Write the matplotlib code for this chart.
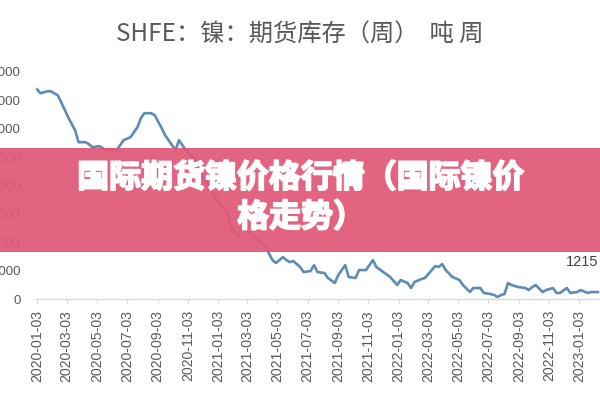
import numpy as np
import pandas as pd
import matplotlib
matplotlib.use('Agg')
import matplotlib.pyplot as plt
import matplotlib.dates as mdates
import matplotlib.patheffects as pe
from matplotlib.patches import Rectangle

plt.rcParams['font.family'] = ['Noto Sans CJK SC', 'DejaVu Sans']

# SHFE nickel futures stock, weekly (weeks counted from 2020-01-03), tons
start_date = '2020-01-03'
week_no = [0, 1, 3, 4, 6, 7, 9, 11, 12, 14, 15, 16, 18, 20, 21, 23, 25, 27, 29, 30,
           31, 33, 34, 36, 37, 39, 40, 41, 42, 43, 45, 48, 50, 52, 55, 56, 58, 59, 60, 63,
           66, 68, 69, 71, 72, 73, 74, 76, 77, 79, 80, 81, 83, 84, 86, 87, 89, 90, 92, 93,
           95, 97, 98, 100, 102, 104, 105, 107, 108, 109, 111, 112, 114, 115, 116, 117, 118, 120, 122, 123,
           125, 126, 128, 129, 131, 132, 133, 134, 135, 136, 137, 139, 141, 142, 143, 144, 146, 147, 149, 150,
           151, 153, 154, 156, 157, 159, 160, 162]
stock = [36950, 36260, 36600, 36600, 35900, 34670, 32030, 29740, 27630, 27630, 27280, 26750, 26930, 26220, 26400, 26220, 27980, 28510, 30270, 31860,
         32740, 32740, 32380, 30100, 28860, 27100, 26220, 27980, 27100, 26220, 24990, 21470, 19540, 17420, 15140, 12670, 10910, 12670, 12140, 10910,
         9150, 6860, 6340, 7390, 6860, 6510, 6690, 5630, 4750, 4930, 5980, 4750, 4580, 3700, 2820, 4220, 5980, 3870, 3700, 5100,
         5100, 6860, 5630, 4750, 3870, 2460, 3340, 2820, 1940, 2990, 3520, 3700, 5100, 5810, 5630, 6160, 5100, 3870, 3340, 2460,
         1230, 1940, 1940, 1060, 880, 700, 350, 700, 880, 2820, 2460, 2110, 1940, 1580, 2110, 2460, 1230, 1580, 1940, 1060,
         1060, 1940, 1060, 1230, 1580, 1060, 1230, 1215]
y_ticks = [0, 5000, 10000, 15000, 20000, 25000, 30000, 35000, 40000]

title = 'SHFE：镍：期货库存（周）  吨 周'
banner = '国际期货镍价格行情（国际镍价\n格走势）'

dates = pd.Timestamp(start_date) + pd.to_timedelta(np.array(week_no) * 7, unit='D')

fig = plt.figure(figsize=(6, 4), dpi=100)
ax = fig.add_axes([0.06, 0.2525, 0.94, 0.5675])

ax.plot(dates, stock, color='#5b8cb8', linewidth=1.9, solid_joinstyle='round')
ax.annotate(f'{stock[-1]}', xy=(dates[-1], stock[-1]), xytext=(-32, 30),
            textcoords='offset pixels', ha='left', va='center',
            fontsize=10.5, color='#404040', family=['Liberation Sans', 'DejaVu Sans'])

ax.set_ylim(0, 40000)
ax.set_yticks(y_ticks)
ax.set_xlim(pd.Timestamp('2020-01-01'), pd.Timestamp('2023-02-14'))
ax.xaxis.set_major_locator(mdates.MonthLocator(bymonth=[1, 3, 5, 7, 9, 11], bymonthday=3))
ax.xaxis.set_major_formatter(mdates.DateFormatter('%Y-%m-%d'))

for s in ['top', 'right', 'left']:
    ax.spines[s].set_visible(False)
ax.spines['bottom'].set_color('#d9d9d9')
ax.spines['bottom'].set_linewidth(1.0)

ax.tick_params(axis='y', length=0, pad=11, labelsize=9.5, labelcolor='#595959')
ax.tick_params(axis='x', length=3, width=0.8, color='#d9d9d9', pad=5,
               labelsize=10.2, labelcolor='#595959', labelrotation=90)
for lab in ax.get_xticklabels() + ax.get_yticklabels():
    lab.set_family(['Liberation Sans', 'DejaVu Sans'])

fig.text(0.5, 0.9125, title, ha='center', va='center', fontsize=17.5,
         fontweight='light', color='#595959')

fig.add_artist(Rectangle((0, 0.37), 1, 0.26, transform=fig.transFigure,
                         facecolor='#e15876', alpha=0.93, edgecolor='none', zorder=5))
fig.text(0.502, 0.505, banner, ha='center', va='center', multialignment='center',
         fontsize=23, fontweight='bold', color='white', linespacing=1.3, zorder=6,
         path_effects=[pe.withStroke(linewidth=1.3, foreground='white')])

fig.savefig('out.png', dpi=100)
